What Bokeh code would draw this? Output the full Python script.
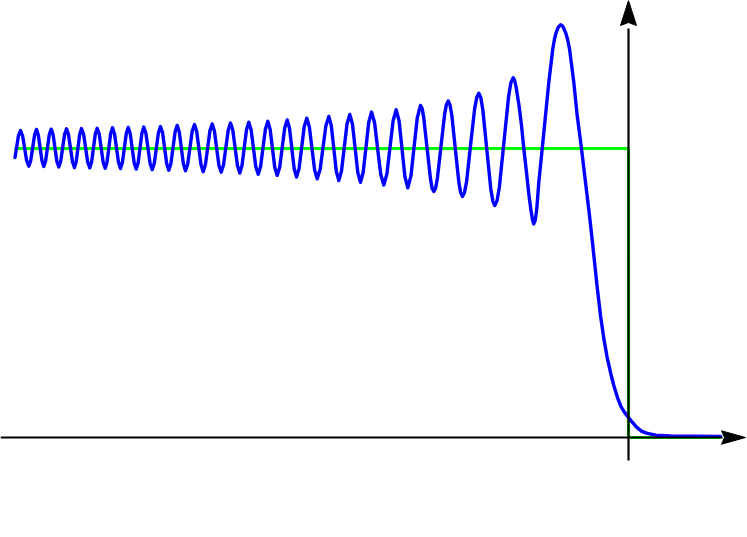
from bokeh.plotting import figure
from bokeh.embed import file_html
from bokeh.resources import INLINE
from bokeh.models import Range1d

# ---- data ----
# blue curve: intensity (green step level = 1) vs position (edge at x = 0)
wave_x = [
    -6.135, -6.1,
    -6.08, -6.059, -6.018, -5.997, -5.978, -5.939,
    -5.92, -5.902, -5.865, -5.847, -5.829, -5.792,
    -5.773, -5.754, -5.716, -5.697, -5.678, -5.639,
    -5.62, -5.60, -5.56, -5.54, -5.523, -5.488,
    -5.47, -5.449, -5.408, -5.387, -5.369, -5.332,
    -5.313, -5.293, -5.253, -5.233, -5.215, -5.178,
    -5.16, -5.14, -5.10, -5.08, -5.061, -5.022,
    -5.003, -4.983, -4.943, -4.923, -4.904, -4.866,
    -4.847, -4.826, -4.784, -4.763, -4.742, -4.701,
    -4.68, -4.659, -4.618, -4.597, -4.576, -4.534,
    -4.513, -4.492, -4.451, -4.43, -4.408, -4.363,
    -4.34, -4.318, -4.275, -4.253, -4.231, -4.186,
    -4.163, -4.141, -4.096, -4.073, -4.050, -4.003,
    -3.98, -3.957, -3.910, -3.887, -3.865, -3.820,
    -3.797, -3.774, -3.727, -3.703, -3.679, -3.631,
    -3.607, -3.584, -3.537, -3.513, -3.488, -3.438,
    -3.413, -3.390, -3.343, -3.32, -3.294, -3.243,
    -3.217, -3.191, -3.139, -3.113, -3.084, -3.026,
    -2.997, -2.972, -2.922, -2.897, -2.870, -2.815,
    -2.787, -2.760, -2.707, -2.68, -2.653, -2.625, -2.598,
    -2.57, -2.539, -2.509, -2.478, -2.447, -2.416, -2.385, -2.354,
    -2.323, -2.294, -2.265, -2.236, -2.207, -2.175, -2.144, -2.112,
    -2.08, -2.063, -2.047, -2.014, -1.980, -1.964,
    -1.947, -1.929, -1.911, -1.875, -1.839, -1.821,
    -1.803, -1.785, -1.767, -1.732, -1.696, -1.678,
    -1.66, -1.640, -1.619, -1.579, -1.538, -1.517,
    -1.497, -1.477, -1.457, -1.417, -1.377, -1.357,
    -1.337, -1.314, -1.291, -1.245, -1.199, -1.176,
    -1.153, -1.139, -1.125, -1.095, -1.07, -1.047, -1.02, -0.995, -0.975, -0.96,
    -0.947, -0.933, -0.917, -0.897, -0.863, -0.83, -0.797, -0.757, -0.74, -0.723, -0.702,
    -0.68, -0.657, -0.63, -0.61, -0.59, -0.547, -0.513, -0.47, -0.43, -0.39, -0.357,
    -0.315, -0.28, -0.247, -0.215, -0.18, -0.147, -0.11, -0.075, -0.04,
    0.0, 0.04, 0.08, 0.13, 0.18, 0.27, 0.42, 0.92,
]
wave_y = [
    0.969, 1.045,
    1.062, 1.044, 0.957, 0.939, 0.958, 1.047,
    1.066, 1.047, 0.957, 0.938, 0.957, 1.048,
    1.067, 1.048, 0.955, 0.936, 0.955, 1.049,
    1.068, 1.048, 0.954, 0.934, 0.954, 1.049,
    1.069, 1.049, 0.953, 0.933, 0.953, 1.050,
    1.070, 1.050, 0.952, 0.932, 0.952, 1.052,
    1.072, 1.051, 0.952, 0.931, 0.952, 1.052,
    1.073, 1.052, 0.950, 0.929, 0.950, 1.053,
    1.074, 1.053, 0.948, 0.927, 0.949, 1.054,
    1.076, 1.054, 0.947, 0.925, 0.948, 1.057,
    1.080, 1.057, 0.946, 0.923, 0.946, 1.060,
    1.083, 1.059, 0.944, 0.920, 0.944, 1.061,
    1.085, 1.061, 0.942, 0.918, 0.943, 1.063,
    1.088, 1.063, 0.940, 0.915, 0.941, 1.065,
    1.091, 1.065, 0.937, 0.911, 0.938, 1.067,
    1.094, 1.067, 0.934, 0.907, 0.935, 1.071,
    1.099, 1.070, 0.930, 0.901, 0.931, 1.075,
    1.105, 1.074, 0.926, 0.895, 0.927, 1.079,
    1.111, 1.079, 0.921, 0.889, 0.922, 1.085,
    1.118, 1.084, 0.917, 0.883, 0.918, 1.004, 1.090,
    1.126, 1.089, 1.000, 0.911, 0.874, 0.912, 1.004, 1.096,
    1.134, 1.095, 0.999, 0.903, 0.864, 0.906, 1.006, 1.107,
    1.149, 1.138, 1.105, 1.000, 0.895, 0.862,
    0.851, 0.863, 0.897, 1.008, 1.118, 1.152,
    1.164, 1.151, 1.116, 0.999, 0.882, 0.847,
    0.834, 0.848, 0.886, 1.013, 1.139, 1.177,
    1.191, 1.176, 1.135, 0.997, 0.860, 0.818,
    0.803, 0.820, 0.867, 1.024, 1.180, 1.228,
    1.245, 1.236, 1.215, 1.149, 1.080, 1.000, 0.917, 0.837, 0.785, 0.753,
    0.739, 0.751, 0.792, 0.883, 0.999, 1.114, 1.229, 1.345, 1.379, 1.402, 1.420,
    1.428, 1.423, 1.402, 1.379, 1.345, 1.229, 1.114, 0.999, 0.883, 0.768, 0.664,
    0.526, 0.422, 0.343, 0.280, 0.225, 0.180, 0.138, 0.107, 0.087,
    0.069, 0.052, 0.036, 0.022, 0.015, 0.008, 0.005, 0.004,
]

# green step (geometric-optics shadow)
step_x = [-6.14, 0.0, 0.0, 0.92]
step_y = [1.0, 1.0, 0.0, 0.0]

# ---- layout ----
W, H = 747, 529
PX_PER_X = 100.0            # pixels per x unit
PX_PER_Y = 289.0            # pixels per y unit
ORIGIN_PX = (628.0, 437.0)  # where (0, 0) sits in the picture


def px2x(px):
    return (px - ORIGIN_PX[0]) / PX_PER_X


def py2y(py):
    return (ORIGIN_PX[1] - py) / PX_PER_Y


p = figure(width=W, height=H, output_backend="svg", toolbar_location=None,
           x_range=Range1d(px2x(0), px2x(W)), y_range=Range1d(py2y(H), py2y(0)),
           min_border=0, min_border_left=0, min_border_right=0,
           min_border_top=0, min_border_bottom=0)
p.axis.visible = False
p.grid.visible = False
p.outline_line_color = None
p.background_fill_color = "white"
p.border_fill_color = "white"

p.line(step_x, step_y, line_color="#00ff00", line_width=3.2)
p.line(wave_x, wave_y, line_color="#0000ff", line_width=3.4,
       line_join="round", line_cap="round")

# axes with arrow heads
ax_left, ax_tip, ax_base, ax_notch, ax_half = px2x(0), px2x(745), px2x(721), px2x(724), 6.7 / PX_PER_Y
p.line([ax_left, ax_base + 0.01], [0, 0], line_color="black", line_width=2.2)
p.patch([ax_tip, ax_base, ax_notch, ax_base], [0, ax_half, 0, -ax_half],
        fill_color="black", line_color="black", line_width=1)

ay_bot, ay_tip, ay_base, ay_notch, ay_half = py2y(460), py2y(0), py2y(25), py2y(22), 8.0 / PX_PER_X
p.line([0, 0], [ay_bot, ay_base - 0.01], line_color="black", line_width=2.2)
p.patch([0, ay_half, 0, -ay_half], [ay_tip, ay_base, ay_notch, ay_base],
        fill_color="black", line_color="black", line_width=1)

html = file_html(p, INLINE)
html = html.replace("<head>", "<head><style>html,body{margin:0;padding:0;}</style>", 1)
open("out.html", "w").write(html)
